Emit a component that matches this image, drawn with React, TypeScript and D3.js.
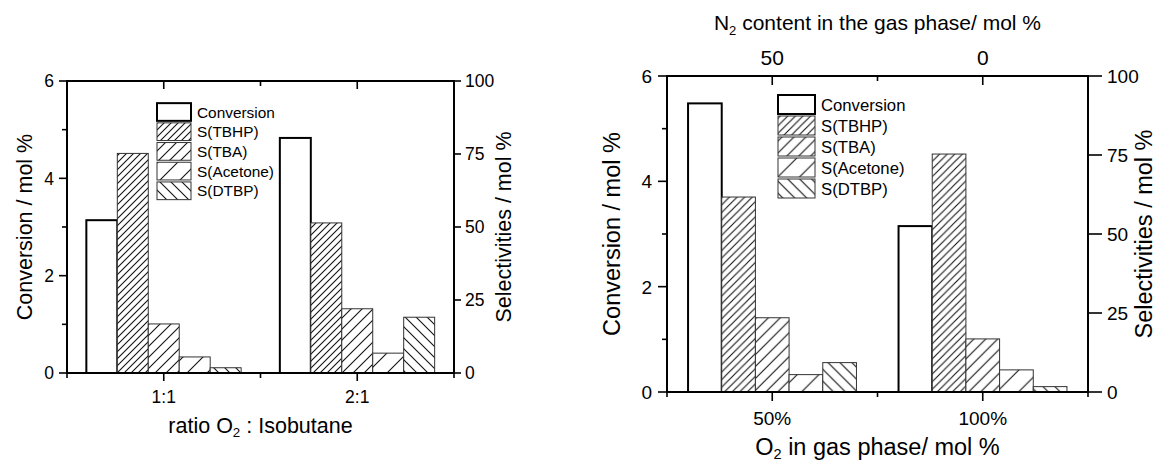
import * as d3 from "d3";

// series shared by both panels
const seriesNames = ["Conversion", "S(TBHP)", "S(TBA)", "S(Acetone)", "S(DTBP)"];

// left panel: ratio O2 : isobutane
const ratioCategories = ["1:1", "2:1"];
const ratioConversion = [3.14, 4.83];
const ratioTBHP = [75.2, 51.4];
const ratioTBA = [16.8, 22.0];
const ratioAcetone = [5.5, 6.8];
const ratioDTBP = [1.8, 19.1];

// right panel: O2 in gas phase (bottom) / N2 content (top)
const o2Categories = ["50%", "100%"];
const n2Labels = ["50", "0"];
const o2Conversion = [5.48, 3.15];
const o2TBHP = [61.7, 75.3];
const o2TBA = [23.5, 16.8];
const o2Acetone = [5.5, 7.0];
const o2DTBP = [9.3, 1.7];

const convTicks = [0, 2, 4, 6];
const convMinor = [1, 3, 5];
const selTicks = [0, 25, 50, 75, 100];

const FONT = "'Liberation Sans', Arial, Helvetica, sans-serif";

// hatch spacing per series (null = no hatch), sign = direction
const hatch = [null, { s: 7, dir: 1 }, { s: 11, dir: 1 }, { s: 20, dir: 1 }, { s: 11, dir: -1 }];

function Panel({ id, cfg, categories, conv, sels, xTitle, topLabels, topTitle }) {
  const { x0, x1, top, bottom, k } = cfg;
  const x = d3.scaleLinear().domain([0.5, 2.5]).range([x0, x1]);
  const yL = d3.scaleLinear().domain([0, 6]).range([bottom, top]);
  const yR = d3.scaleLinear().domain([0, 100]).range([bottom, top]);
  const bw = 0.16 * (x(2) - x(1));

  const bars = [];
  categories.forEach((c, ci) => {
    const cx = x(ci + 1);
    const vals = [conv[ci], ...sels.map((s) => s[ci])];
    vals.forEach((v, si) => {
      const yy = si === 0 ? yL(v) : yR(v);
      bars.push({ key: `${ci}-${si}`, si, x: cx + (si - 2.5) * bw, y: yy, h: bottom - yy });
    });
  });

  const fill = (si) => (si === 0 ? "white" : `url(#${id}-h${si})`);
  const stroke = (si) => (si === 0 ? "#000" : "#333");
  const sw = (si) => (si === 0 ? 2 : 1);

  const midX = (x0 + x1) / 2;
  const midY = (top + bottom) / 2;

  return (
    <g>
      <defs>
        {hatch.map((h, i) => {
          if (!h) return null;
          const s = h.s * k;
          const d =
            h.dir > 0
              ? `M0,${s} L${s},0 M${-s / 4},${s / 4} L${s / 4},${-s / 4} M${(3 * s) / 4},${(5 * s) / 4} L${(5 * s) / 4},${(3 * s) / 4}`
              : `M0,0 L${s},${s} M${-s / 4},${(3 * s) / 4} L${s / 4},${(5 * s) / 4} M${(3 * s) / 4},${-s / 4} L${(5 * s) / 4},${s / 4}`;
          return (
            <pattern key={i} id={`${id}-h${i}`} patternUnits="userSpaceOnUse" width={s} height={s}>
              <rect width={s} height={s} fill="white" />
              <path d={d} stroke="#111" strokeWidth={1.1} />
            </pattern>
          );
        })}
      </defs>

      {bars.map((b) => (
        <rect key={b.key} x={b.x} y={b.y} width={bw} height={b.h} fill={fill(b.si)} stroke={stroke(b.si)} strokeWidth={sw(b.si)} />
      ))}

      {/* frame */}
      <rect x={x0} y={top} width={x1 - x0} height={bottom - top} fill="none" stroke="#000" strokeWidth={2} />

      {/* left axis */}
      {convTicks.map((t) => (
        <g key={`l${t}`}>
          <line x1={x0 - cfg.majorTick} x2={x0} y1={yL(t)} y2={yL(t)} stroke="#000" strokeWidth={1.6} />
          <text x={x0 - cfg.leftGap} y={yL(t)} dy="0.36em" textAnchor="end" fontSize={cfg.tickFont}>
            {t}
          </text>
        </g>
      ))}
      {convMinor.map((t) => (
        <line key={`lm${t}`} x1={x0 - cfg.minorTick} x2={x0} y1={yL(t)} y2={yL(t)} stroke="#000" strokeWidth={1.6} />
      ))}

      {/* right axis */}
      {selTicks.map((t) => (
        <g key={`r${t}`}>
          <line x1={x1} x2={x1 + cfg.rightTick} y1={yR(t)} y2={yR(t)} stroke="#000" strokeWidth={1.6} />
          <text x={x1 + cfg.rightGap} y={yR(t)} dy="0.36em" textAnchor="start" fontSize={cfg.tickFont}>
            {t}
          </text>
        </g>
      ))}

      {/* bottom / top ticks */}
      {[0.5, 1, 1.5, 2, 2.5].map((t) => {
        const major = t === 1 || t === 2;
        const len = major ? cfg.majorTick : cfg.minorTick;
        return (
          <g key={`b${t}`}>
            <line x1={x(t)} x2={x(t)} y1={bottom} y2={bottom + len} stroke="#000" strokeWidth={1.6} />
            {t > 0.5 && t < 2.5 && (
              <line x1={x(t)} x2={x(t)} y1={top} y2={top + len} stroke="#000" strokeWidth={1.6} />
            )}
          </g>
        );
      })}
      {categories.map((c, ci) => (
        <text key={c} x={x(ci + 1)} y={cfg.xTickBase} textAnchor="middle" fontSize={cfg.xTickFont}>
          {c}
        </text>
      ))}
      {topLabels &&
        topLabels.map((c, ci) => (
          <text key={c} x={x(ci + 1)} y={cfg.topTickBase} textAnchor="middle" fontSize={cfg.topTickFont}>
            {c}
          </text>
        ))}

      {/* titles */}
      <text x={midX} y={cfg.xTitleBase} textAnchor="middle" fontSize={cfg.titleFont}>
        {xTitle[0]}
        <tspan fontSize={cfg.titleFont * 0.62} dy="0.3em">
          2
        </tspan>
        <tspan dy="-0.19em">{xTitle[1]}</tspan>
      </text>
      {topTitle && (
        <text x={midX} y={cfg.topTitleBase} textAnchor="middle" fontSize={cfg.topTitleFont}>
          {topTitle[0]}
          <tspan fontSize={cfg.topTitleFont * 0.62} dy="0.4em">
            2
          </tspan>
          <tspan dy="-0.25em">{topTitle[1]}</tspan>
        </text>
      )}
      <text transform={`translate(${cfg.yTitleL},${midY}) rotate(-90)`} dy="0.35em" textAnchor="middle" fontSize={cfg.titleFont}>
        Conversion / mol %
      </text>
      <text transform={`translate(${cfg.yTitleR},${midY}) rotate(-90)`} dy="0.35em" textAnchor="middle" fontSize={cfg.titleFont}>
        Selectivities / mol %
      </text>

      {/* legend */}
      {seriesNames.map((n, i) => {
        const cy = cfg.legendY + i * cfg.legendRow;
        const bh = cfg.legendRow - 2;
        return (
          <g key={n}>
            <rect x={cfg.legendX} y={cy - bh / 2} width={cfg.boxW} height={bh} fill={fill(i)} stroke={stroke(i)} strokeWidth={sw(i)} />
            <text x={cfg.legendX + cfg.boxW + 6} y={cy} dy="0.36em" fontSize={cfg.legendFont}>
              {n}
            </text>
          </g>
        );
      })}
    </g>
  );
}

const leftCfg = {
  x0: 67, x1: 454, top: 81, bottom: 373, k: 1,
  tickFont: 17.5, xTickFont: 17.5, titleFont: 21.5, legendFont: 15.4,
  majorTick: 8, minorTick: 5, rightTick: 7, leftGap: 13, rightGap: 11,
  xTickBase: 403, xTitleBase: 433, yTitleL: 24, yTitleR: 503,
  legendX: 157, legendY: 112, legendRow: 19.7, boxW: 34,
};

const rightCfg = {
  x0: 667, x1: 1088, top: 76, bottom: 392, k: 1.085,
  tickFont: 19, xTickFont: 19, titleFont: 23.5, legendFont: 16.7,
  majorTick: 9, minorTick: 5, rightTick: 14, leftGap: 15, rightGap: 19,
  xTickBase: 425, xTitleBase: 455, yTitleL: 612, yTitleR: 1144,
  topTickBase: 65, topTickFont: 21, topTitleBase: 30, topTitleFont: 21,
  legendX: 778, legendY: 104.5, legendRow: 21, boxW: 37,
};

export default function App() {
  return (
    <svg
      width={1158}
      height={464}
      style={{ position: "absolute", left: 0, top: 0, background: "white" }}
      fontFamily={FONT}
    >
      <rect width={1158} height={464} fill="white" />
      <Panel
        id="p1"
        cfg={leftCfg}
        categories={ratioCategories}
        conv={ratioConversion}
        sels={[ratioTBHP, ratioTBA, ratioAcetone, ratioDTBP]}
        xTitle={["ratio O", " : Isobutane"]}
      />
      <Panel
        id="p2"
        cfg={rightCfg}
        categories={o2Categories}
        conv={o2Conversion}
        sels={[o2TBHP, o2TBA, o2Acetone, o2DTBP]}
        xTitle={["O", " in gas phase/ mol %"]}
        topLabels={n2Labels}
        topTitle={["N", " content in the gas phase/ mol %"]}
      />
    </svg>
  );
}
